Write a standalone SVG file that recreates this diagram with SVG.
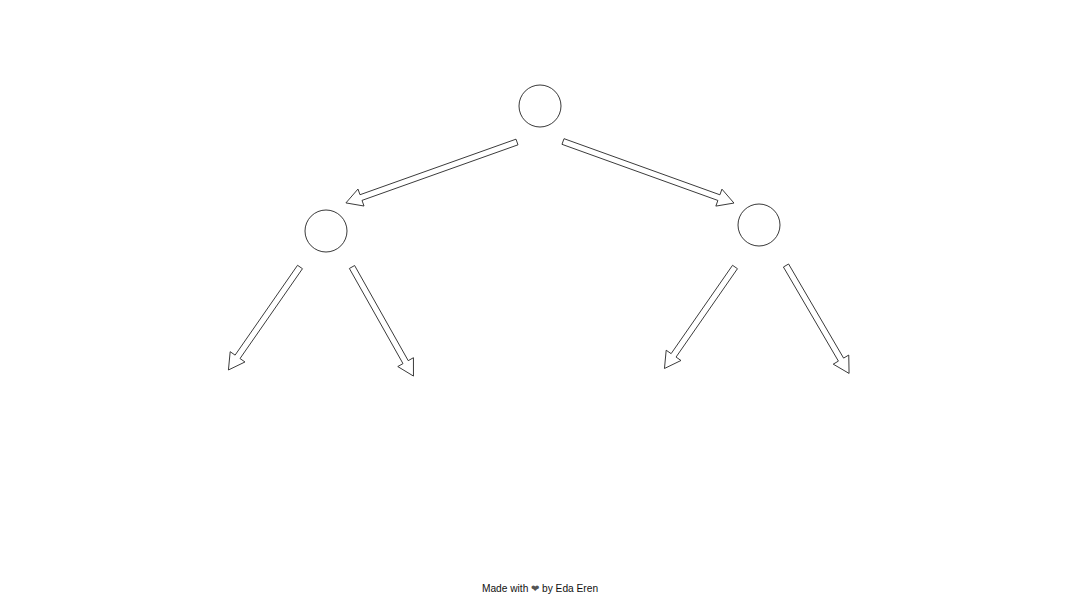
<svg xmlns="http://www.w3.org/2000/svg" width="1080" height="608" viewBox="0 0 1080 608">
<style>
.node{fill:#fff;stroke:#222;stroke-width:0.9}
.arr{fill:#fff;stroke:#222;stroke-width:0.8;stroke-linejoin:round}
.credit{font-family:"Liberation Sans",Arial,sans-serif;font-size:10.2px;fill:#111}
</style>
<rect width="1080" height="608" fill="#fff"/>
<g id="connectors">
<path class="arr" transform="translate(517,142) rotate(160.4)" d="M0,-3 L165.6,-3 L165.6,-9 L181.6,0 L165.6,9 L165.6,3 L0,3 Z"/>
<path class="arr" transform="translate(563,141.5) rotate(19.8)" d="M0,-3 L165.7,-3 L165.7,-9 L181.7,0 L165.7,9 L165.7,3 L0,3 Z"/>
<path class="arr" transform="translate(300,267) rotate(124.8)" d="M0,-3 L109.4,-3 L109.4,-9 L125.4,0 L109.4,9 L109.4,3 L0,3 Z"/>
<path class="arr" transform="translate(352,267) rotate(60.6)" d="M0,-3 L109.2,-3 L109.2,-9 L125.2,0 L109.2,9 L109.2,3 L0,3 Z"/>
<path class="arr" transform="translate(735,267) rotate(124.8)" d="M0,-3 L107.6,-3 L107.6,-9 L123.6,0 L107.6,9 L107.6,3 L0,3 Z"/>
<path class="arr" transform="translate(786,265.5) rotate(59.7)" d="M0,-3 L109,-3 L109,-9 L125,0 L109,9 L109,3 L0,3 Z"/>
</g>
<g id="node-root"><circle class="node" cx="540" cy="106" r="21"/></g>
<g id="node-left"><circle class="node" cx="326" cy="231" r="21"/></g>
<g id="node-right"><circle class="node" cx="759" cy="225" r="21"/></g>
<text class="credit" x="540" y="592" text-anchor="middle">Made with <tspan fill="#555">❤</tspan> by Eda Eren</text>
</svg>
